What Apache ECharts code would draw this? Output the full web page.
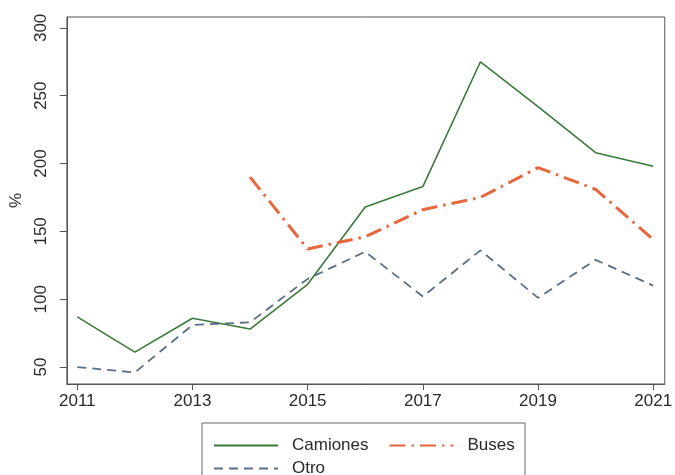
<!DOCTYPE html>
<html>
<head>
<meta charset="utf-8">
<script src="https://cdn.jsdelivr.net/npm/echarts@6/dist/echarts.min.js"></script>
<style>
  html, body { margin: 0; padding: 0; background: #fff; }
  #chart { width: 675px; height: 475px; }
</style>
</head>
<body>
<div id="chart"></div>
<script>
// Years and yearly index values (%) for each vehicle type
const years = [2011, 2012, 2013, 2014, 2015, 2016, 2017, 2018, 2019, 2020, 2021];
const camiones = [87, 61, 86, 78, 111, 168, 183, 275, 242, 208, 198];
const buses = [null, null, null, 190, 137, 146, 166, 175, 197, 181, 144];
const otro = [50, 46, 81, 83, 115, 135, 102, 136, 101, 129, 110];
const yTicks = [50, 100, 150, 200, 250, 300];
const xTicks = [2011, 2013, 2015, 2017, 2019, 2021];

const pairs = vals => years.map((y, i) => [y, vals[i]]);

const font = 'Liberation Sans, Arial, sans-serif';
const frameColor = '#555';
const textColor = '#2a2a2a';

const chart = echarts.init(document.getElementById('chart'), null, { renderer: 'canvas' });

const legendText = { color: textColor, fontFamily: font, fontSize: 17, padding: [0, 0, 0, 9] };

chart.setOption({
  animation: false,
  backgroundColor: '#fff',
  grid: {
    left: 60, right: 7, top: 17, bottom: 91,
    show: true, borderColor: frameColor, borderWidth: 1, backgroundColor: '#fff'
  },
  xAxis: {
    type: 'value',
    min: 2010.82,
    max: 2021.2,
    axisLine: { show: true, lineStyle: { color: frameColor, width: 1 } },
    axisTick: { show: true, customValues: xTicks, length: 6, lineStyle: { color: frameColor } },
    axisLabel: {
      customValues: xTicks, margin: 9,
      color: textColor, fontFamily: font, fontSize: 17,
      formatter: v => String(v)
    },
    splitLine: { show: false }
  },
  yAxis: {
    type: 'value',
    min: 37.5,
    max: 308,
    name: '%',
    nameLocation: 'middle',
    nameGap: 40,
    nameRotate: 90,
    nameTextStyle: { color: textColor, fontFamily: font, fontSize: 17 },
    axisLine: { show: true, lineStyle: { color: frameColor, width: 1 } },
    axisTick: { show: true, customValues: yTicks, length: 7, lineStyle: { color: frameColor } },
    axisLabel: {
      customValues: yTicks, rotate: 90, margin: 17,
      color: textColor, fontFamily: font, fontSize: 17
    },
    splitLine: { show: false }
  },
  legend: [
    {
      data: ['Camiones', 'Buses'],
      orient: 'horizontal',
      left: 208, top: 432,
      itemWidth: 64, itemHeight: 14, itemGap: 20,
      itemStyle: { opacity: 0 },
      textStyle: legendText
    },
    {
      data: ['Otro'],
      orient: 'horizontal',
      left: 208, top: 455,
      itemWidth: 64, itemHeight: 14,
      itemStyle: { opacity: 0 },
      textStyle: legendText
    }
  ],
  graphic: [
    {
      type: 'rect',
      shape: { x: 202, y: 423, width: 323, height: 60 },
      style: { fill: 'none', stroke: '#666', lineWidth: 1 },
      silent: true,
      z: 0
    }
  ],
  series: [
    {
      name: 'Camiones', type: 'line', data: pairs(camiones),
      symbol: 'none', connectNulls: false,
      lineStyle: { color: '#3a7a3a', width: 1.6 },
      itemStyle: { color: '#3a7a3a' }
    },
    {
      name: 'Buses', type: 'line', data: pairs(buses),
      symbol: 'none', connectNulls: false,
      lineStyle: { color: '#e8663c', width: 3, type: [16, 6, 2.5, 6] },
      itemStyle: { color: '#e8663c' }
    },
    {
      name: 'Otro', type: 'line', data: pairs(otro),
      symbol: 'none', connectNulls: false,
      lineStyle: { color: '#5b6f84', width: 1.8, type: [9, 6] },
      itemStyle: { color: '#5b6f84' }
    }
  ]
});
</script>
</body>
</html>
